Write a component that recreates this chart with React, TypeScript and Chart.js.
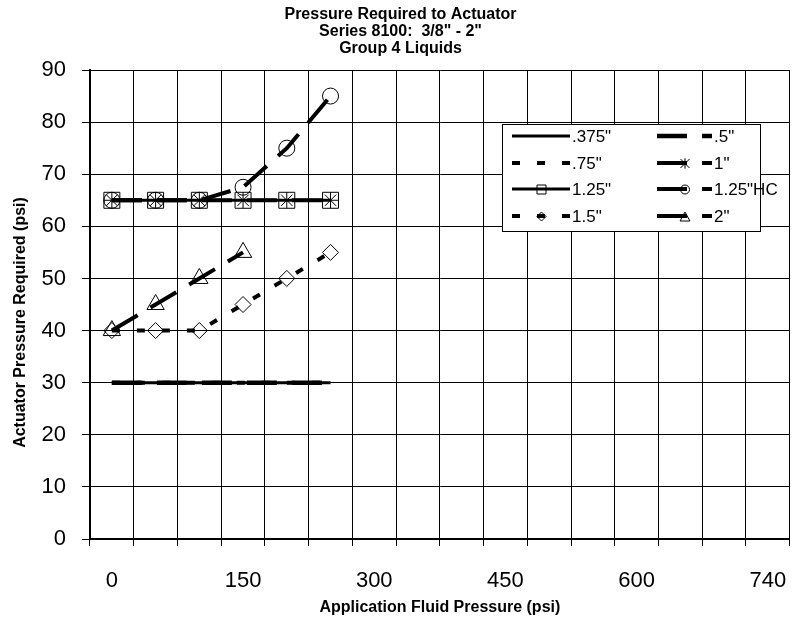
import React, { useEffect, useRef } from 'react';
import { Chart, registerables } from 'chart.js';

Chart.register(...registerables);

const FONT = '"Liberation Sans", Arial, Helvetica, sans-serif';

// ---- text ----
const titleLines = ['Pressure Required to Actuator', 'Series 8100:  3/8" - 2"', 'Group 4 Liquids'];
const xAxisTitle = 'Application Fluid Pressure (psi)';
const yAxisTitle = 'Actuator Pressure Required (psi)';

// ---- categories (x) ----
const categories = ['0', '50', '100', '150', '200', '250', '300', '350', '400', '450', '500', '550', '600', '650', '700', '740'];
const labelEvery = 3;

// ---- y axis ----
const yMin = 0;
const yMax = 90;
const yStep = 10;

// ---- series ----
const seriesNames = ['.375"', '.5"', '.75"', '1"', '1.25"', '1.25"HC', '1.5"', '2"'];
const s0375 = [30, 30, 30, 30, 30, 30];
const s05 = [30, 30, 30, 30, 30, 30];
const s075 = [30, 30, 30, 30, 30, 30];
const s1 = [65, 65, 65, 65, 65, 65];
const s125 = [65, 65, 65, 65, 65, 65];
const s125HC = [65, 65, 65, 67.5, 75, 85];
const s15 = [40, 40, 40, 45, 50, 55];
const s2 = [40, 45, 50, 55];
const seriesValues = [s0375, s05, s075, s1, s125, s125HC, s15, s2];

type MarkerType = 'square' | 'circle' | 'diamond' | 'triangle' | 'star' | null;

const LONG = [30, 15];
const SHORT = [8, 17];
const seriesWidth = [3, 4.5, 4, 4, 3, 4, 4, 4];
const seriesDash: number[][] = [[], LONG, SHORT, LONG, [], LONG, SHORT, LONG];
const seriesMarker: MarkerType[] = [null, null, null, 'star', 'square', 'circle', 'diamond', 'triangle'];

// Chart.js point styles / radii for each marker kind
const pointStyleOf: Record<string, string> = {
  square: 'rect',
  circle: 'circle',
  diamond: 'rectRot',
  triangle: 'triangle',
  star: 'star',
};
const pointRadiusOf: Record<string, number> = {
  square: 11.3,
  circle: 8,
  diamond: 8,
  triangle: 10,
  star: 8,
};

function drawMarker(ctx: CanvasRenderingContext2D, type: MarkerType, x: number, y: number, s: number, lw = 1) {
  if (!type) return;
  ctx.save();
  ctx.strokeStyle = '#000';
  ctx.lineWidth = lw;
  ctx.setLineDash([]);
  ctx.beginPath();
  switch (type) {
    case 'square':
      ctx.rect(x - s, y - s, 2 * s, 2 * s);
      break;
    case 'circle':
      ctx.arc(x, y, s, 0, Math.PI * 2);
      break;
    case 'diamond':
      ctx.moveTo(x, y - s);
      ctx.lineTo(x + s, y);
      ctx.lineTo(x, y + s);
      ctx.lineTo(x - s, y);
      ctx.closePath();
      break;
    case 'triangle':
      ctx.moveTo(x, y - s);
      ctx.lineTo(x + s * 1.1, y + s);
      ctx.lineTo(x - s * 1.1, y + s);
      ctx.closePath();
      break;
    case 'star':
      ctx.moveTo(x - s, y - s);
      ctx.lineTo(x + s, y + s);
      ctx.moveTo(x + s, y - s);
      ctx.lineTo(x - s, y + s);
      ctx.moveTo(x, y - s * 1.15);
      ctx.lineTo(x, y + s * 1.15);
      break;
  }
  ctx.stroke();
  ctx.restore();
}

const customLegend = {
  id: 'customLegend',
  afterDraw(chart: any) {
    const ctx: CanvasRenderingContext2D = chart.ctx;
    const ca = chart.chartArea;
    const bx = ca.left + 412;
    const by = ca.top + 54;
    const bw = 258;
    const bh = 107;
    ctx.save();
    ctx.fillStyle = '#fff';
    ctx.fillRect(bx, by, bw, bh);
    ctx.strokeStyle = '#000';
    ctx.lineWidth = 1;
    ctx.strokeRect(bx + 0.5, by + 0.5, bw, bh);
    const colX = [bx + 10, bx + 155];
    const colLen = [58, 55];
    const rowY0 = by + 12;
    const rowStep = 26.7;
    ctx.font = `17px ${FONT}`;
    ctx.textBaseline = 'middle';
    ctx.textAlign = 'left';
    seriesNames.forEach((name, i) => {
      const col = i % 2;
      const row = Math.floor(i / 2);
      const x0 = colX[col];
      const y = Math.round(rowY0 + row * rowStep);
      ctx.save();
      ctx.strokeStyle = '#000';
      ctx.lineWidth = seriesWidth[i];
      ctx.setLineDash(seriesDash[i]);
      ctx.lineCap = 'butt';
      ctx.beginPath();
      ctx.moveTo(x0, y);
      ctx.lineTo(x0 + colLen[col], y);
      ctx.stroke();
      ctx.restore();
      drawMarker(ctx, seriesMarker[i], x0 + colLen[col] / 2 + 0.5, y + 0.5, 4.5, 1);
      ctx.fillStyle = '#000';
      ctx.fillText(name, x0 + colLen[col] + 2, y + 1);
    });
    ctx.restore();
  },
};

const yTitlePlugin = {
  id: 'yTitle',
  afterDraw(chart: any) {
    const ctx: CanvasRenderingContext2D = chart.ctx;
    const ca = chart.chartArea;
    ctx.save();
    ctx.translate(21, (ca.top + ca.bottom) / 2 + 18);
    ctx.rotate(-Math.PI / 2);
    ctx.font = `bold 16px ${FONT}`;
    ctx.fillStyle = '#000';
    ctx.textAlign = 'center';
    ctx.textBaseline = 'middle';
    ctx.fillText(yAxisTitle, 0, 0);
    ctx.restore();
  },
};

export default function App() {
  const ref = useRef<HTMLCanvasElement | null>(null);

  useEffect(() => {
    document.body.style.margin = '0';
    const canvas = ref.current;
    if (!canvas) return;

    const datasets = seriesNames.map((name, i) => {
      const m = seriesMarker[i];
      const r = m ? pointRadiusOf[m] : 0;
      return {
        label: name,
        data: seriesValues[i],
        borderColor: '#000',
        backgroundColor: 'transparent',
        borderWidth: seriesWidth[i],
        borderDash: seriesDash[i],
        borderCapStyle: 'butt' as const,
        tension: 0,
        fill: false,
        pointRadius: r,
        pointHoverRadius: r,
        pointStyle: m ? pointStyleOf[m] : 'circle',
        pointBorderColor: '#000',
        pointBackgroundColor: 'transparent',
        pointBorderWidth: 1,
      };
    });

    const chart = new Chart(canvas, {
      type: 'line',
      data: { labels: categories, datasets },
      options: {
        responsive: false,
        maintainAspectRatio: false,
        animation: false,
        events: [],
        layout: { padding: { left: 0, right: 1, top: 0, bottom: 0 } },
        plugins: {
          legend: { display: false },
          tooltip: { enabled: false },
          title: {
            display: true,
            text: titleLines,
            color: '#000',
            font: { family: FONT, size: 16, weight: 'bold', lineHeight: '17px' },
            padding: { top: 6.5, bottom: 12.5 },
          },
        },
        scales: {
          x: {
            type: 'category',
            offset: true,
            grid: {
              offset: true,
              color: '#000',
              lineWidth: 1,
              drawTicks: true,
              tickLength: 26,
              tickBorderDash: [6, 100],
              tickColor: '#000',
            },
            border: { color: '#000', width: 2 },
            ticks: {
              autoSkip: false,
              maxRotation: 0,
              minRotation: 0,
              padding: 3,
              color: '#000',
              font: { family: FONT, size: 22 },
              callback: (_v: any, i: number) => (i % labelEvery === 0 ? categories[i] : ''),
            },
            title: {
              display: true,
              text: xAxisTitle,
              color: '#000',
              font: { family: FONT, size: 16, weight: 'bold' },
              padding: { top: 0, bottom: 8 },
            },
            afterFit: (s: any) => {
              s.height = 86;
            },
          },
          y: {
            min: yMin,
            max: yMax,
            ticks: {
              stepSize: yStep,
              padding: 16,
              color: '#000',
              font: { family: FONT, size: 22 },
            },
            grid: { color: '#000', lineWidth: 1, tickLength: 8, tickColor: '#000' },
            border: { color: '#000', width: 2 },
            afterFit: (s: any) => {
              s.width = 90;
            },
          },
        },
      } as any,
      plugins: [customLegend, yTitlePlugin],
    });

    return () => {
      chart.destroy();
    };
  }, []);

  return (
    <div style={{ width: 802, height: 625 }}>
      <canvas ref={ref} width={802} height={625} style={{ display: 'block', width: 802, height: 625 }} />
    </div>
  );
}
